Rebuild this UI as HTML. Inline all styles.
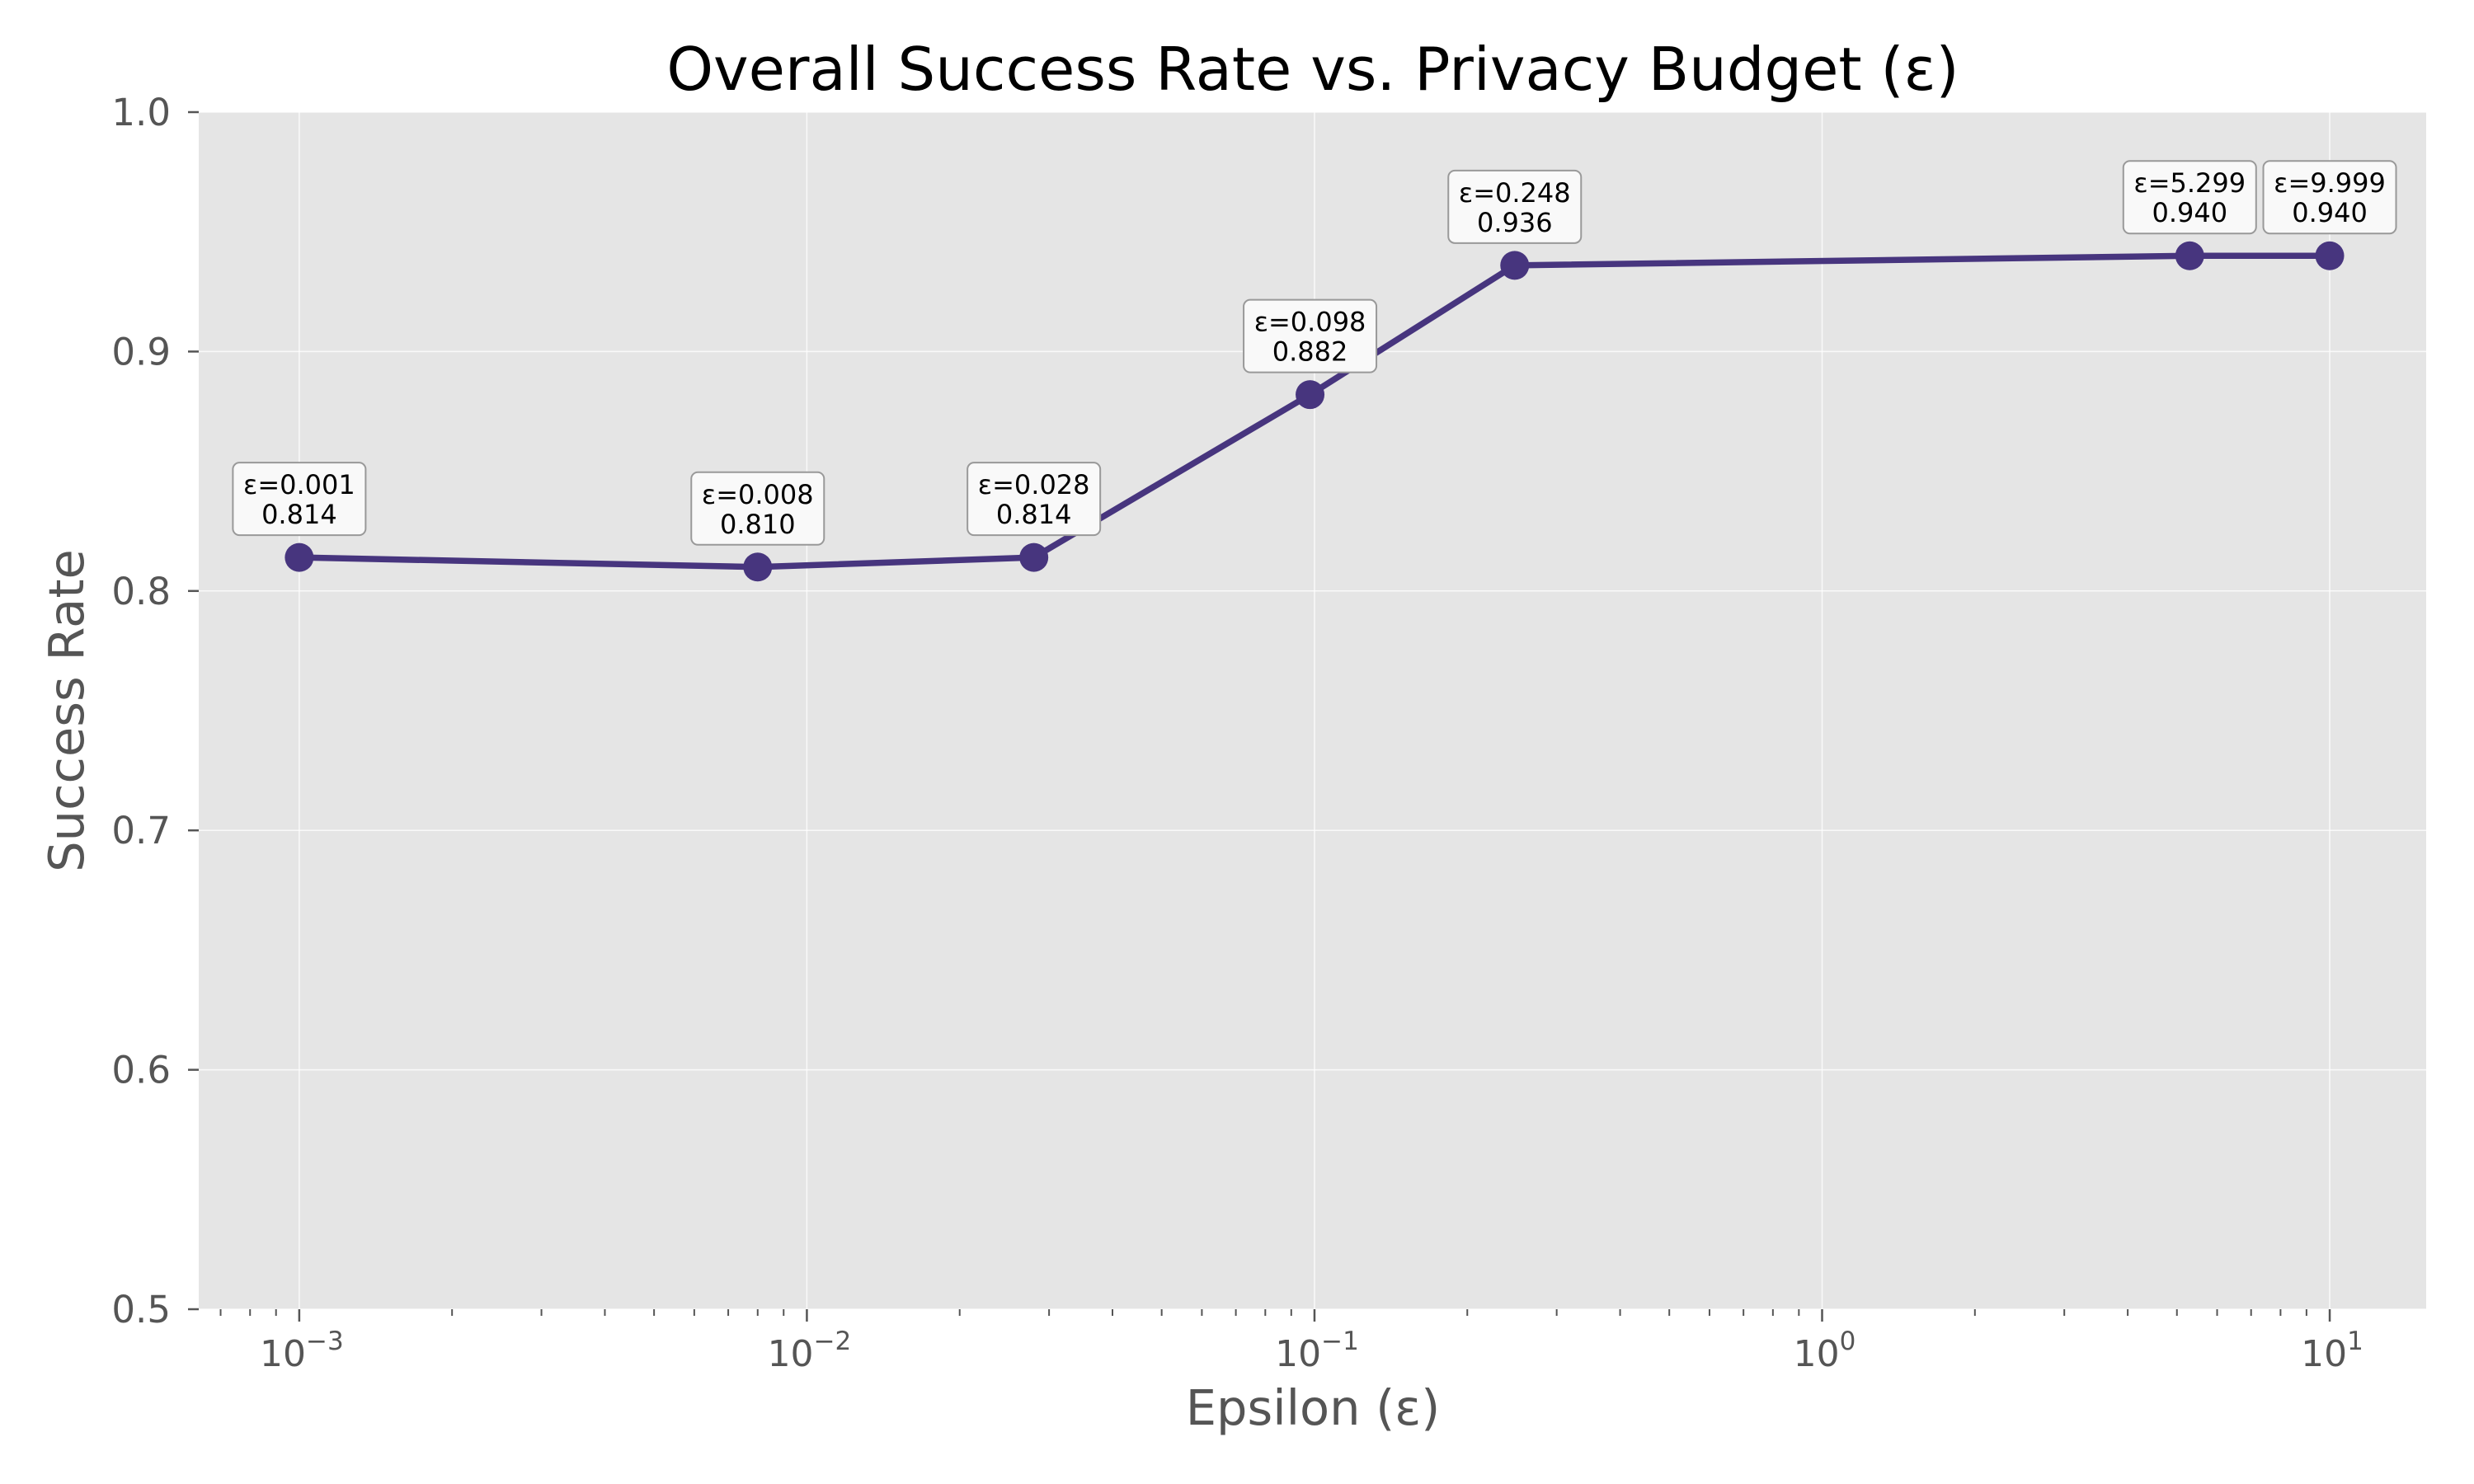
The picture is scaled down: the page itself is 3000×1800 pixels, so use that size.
<!DOCTYPE html>
<html><head><meta charset="utf-8"><style>
html,body{margin:0;padding:0;background:#fff}
svg{display:block;font-family:"DejaVu Sans","Liberation Sans",sans-serif}
</style></head><body>
<svg id="chart" width="3000" height="1800" viewBox="0 0 3000 1800" xmlns="http://www.w3.org/2000/svg">
<rect width="3000" height="1800" fill="#fff"/>
<text x="1592" y="109" font-size="72" text-anchor="middle" fill="#000">Overall Success Rate vs. Privacy Budget (ε)</text>
<text x="1592" y="1728" font-size="59" text-anchor="middle" fill="#555">Epsilon (ε)</text>
<text x="0" y="0" font-size="59" text-anchor="middle" fill="#555" transform="translate(101,862) rotate(-90)">Success Rate</text>
<g id="plot"></g>
</svg>
<script>
const epsilons = [0.001, 0.008, 0.028, 0.098, 0.248, 5.299, 9.999];
const successRates = [0.814, 0.810, 0.814, 0.882, 0.936, 0.940, 0.940];
const epsLabels = ["0.001","0.008","0.028","0.098","0.248","5.299","9.999"];
const yTicks = [0.5, 0.6, 0.7, 0.8, 0.9, 1.0];
const xDecades = [-3, -2, -1, 0, 1];

const L=241, R=2942, T=136, B=1588;
const xMinLog=-3.198, xMaxLog=1.19, yMin=0.5, yMax=1.0;
const X=v=>L+(Math.log10(v)-xMinLog)/(xMaxLog-xMinLog)*(R-L);
const Y=v=>B-(v-yMin)/(yMax-yMin)*(B-T);
const NS="http://www.w3.org/2000/svg";
const g=document.getElementById('plot');
function mk(tag,attrs,parent){const e=document.createElementNS(NS,tag);for(const k in attrs)e.setAttribute(k,attrs[k]);(parent||g).appendChild(e);return e;}

const bg=mk('rect',{x:L,y:T,width:R-L,height:B-T,fill:'#e5e5e5'});



yTicks.forEach(t=>{
  const y=Y(t);
  const gl=mk('line',{x1:L,x2:R,y1:y,y2:y,stroke:'#fff','stroke-width':1.5,opacity:0.8});
  
  
  mk('line',{x1:L-13,x2:L,y1:y,y2:y,stroke:'#555','stroke-width':2.5});
  const tx=mk('text',{x:L-34,y:y+16,'font-size':45,'text-anchor':'end',fill:'#555'});
  tx.textContent=t.toFixed(1);
  
  
});
xDecades.forEach(d=>{
  const x=X(Math.pow(10,d));
  const gl=mk('line',{x1:x,x2:x,y1:T,y2:B,stroke:'#fff','stroke-width':1.5,opacity:0.8});
  
  
  mk('line',{x1:x,x2:x,y1:B,y2:B+15,stroke:'#555','stroke-width':2.5});
  const tx=mk('text',{x:x+3,y:1657,'font-size':44,'text-anchor':'middle',fill:'#555'});
  
  
  tx.appendChild(document.createTextNode('10'));
  const s=mk('tspan',{dy:-20,'font-size':31},tx);
  s.textContent=(d<0?'−':'')+Math.abs(d);
});
for(let d=-4;d<=1;d++){for(let m=2;m<=9;m++){const v=m*Math.pow(10,d);const lv=Math.log10(v);if(lv<xMinLog||lv>xMaxLog)continue;const x=X(v);mk('line',{x1:x,x2:x,y1:B,y2:B+8,stroke:'#555','stroke-width':2});}}

const pts=epsilons.map((e,i)=>X(e)+','+Y(successRates[i])).join(' ');
const line=mk('polyline',{points:pts,fill:'none',stroke:'#47357e','stroke-width':7.5,'stroke-linejoin':'round'});


epsilons.forEach((e,i)=>{
  const cx=X(e),cy=Y(successRates[i]);
  const c=mk('circle',{cx:cx,cy:cy,r:17.5,fill:'#47357e'});
  
  
  const bw=161,bh=88,by=cy-27-bh;
  const box=mk('rect',{x:cx-bw/2,y:by,width:bw,height:bh,rx:8,fill:'#f9f9f9',stroke:'#999','stroke-width':2});
  
  
  const t1=mk('text',{x:cx,y:by+38,'font-size':32,'text-anchor':'middle',fill:'#000'});
  t1.textContent='ε='+epsLabels[i];
  
  
  const t2=mk('text',{x:cx,y:by+74,'font-size':32,'text-anchor':'middle',fill:'#000'});
  t2.textContent=successRates[i].toFixed(3);
  
  
});
</script>
</body></html>
